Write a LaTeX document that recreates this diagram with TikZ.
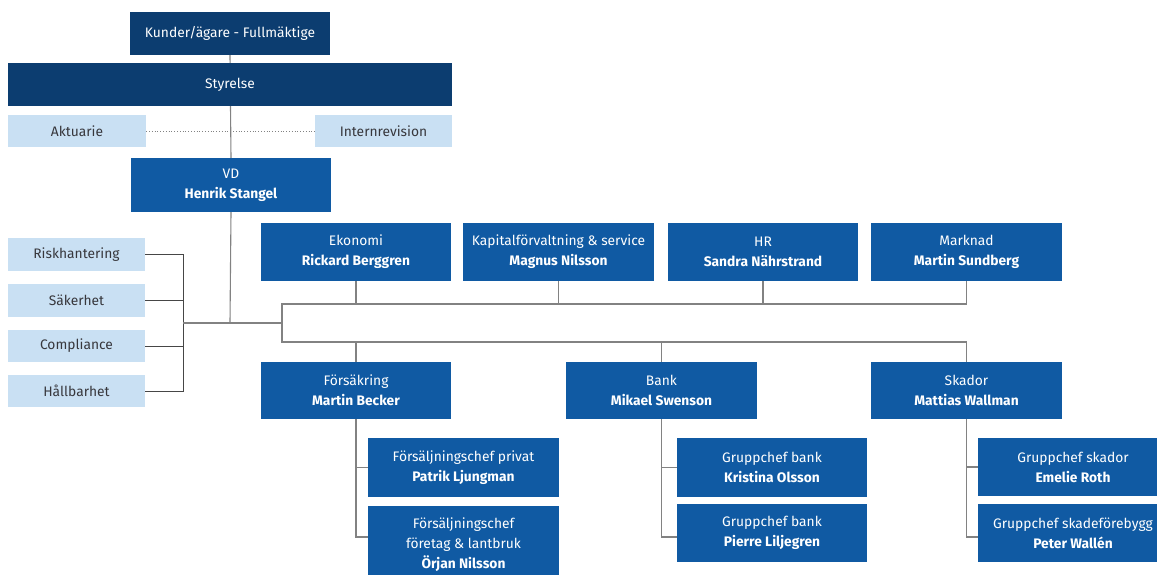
\documentclass[tikz,border=0pt]{standalone}
\usepackage{fontspec}
\setmainfont{Fira Sans}
\usetikzlibrary{backgrounds}
\definecolor{navy}{RGB}{12,61,112}
\definecolor{midblue}{RGB}{16,90,163}
\definecolor{lightblue}{RGB}{201,224,243}
\definecolor{lightText}{RGB}{55,55,60}
\definecolor{lineGray}{RGB}{130,130,130}
\definecolor{lineDark}{RGB}{70,70,70}
\tikzset{
  basebox/.style={inner sep=0pt, align=center, font=\fontsize{13.8}{20}\selectfont, anchor=center},
  darkbox/.style={basebox, fill=navy, text=white},
  midbox/.style={basebox, fill=midblue, text=white},
  lightbox/.style={basebox, fill=lightblue, text=lightText},
  conn/.style={draw=lineGray, line width=1.1pt},
  brack/.style={draw=lineDark, line width=0.9pt},
}
\begin{document}
\begin{tikzpicture}[x=1pt,y=-1pt]
\clip (0,0) rectangle (1157,575);
% top
\node[darkbox, minimum width=200pt, minimum height=43pt] (kund) at (230,33.5) {Kunder/ägare - Fullmäktige};
\node[darkbox, minimum width=444pt, minimum height=43pt] (styr) at (230,84.5) {Styrelse};
\node[lightbox, minimum width=138pt, minimum height=32pt] (akt) at (77,131) {Aktuarie};
\node[lightbox, minimum width=137pt, minimum height=32pt] (intr) at (383.5,131) {Internrevision};
\node[midbox, minimum width=200pt, minimum height=54pt] (vd) at (231,185) {VD\\\textbf{Henrik Stangel}};
% left staff
\node[lightbox, minimum width=137pt, minimum height=33pt] (risk) at (76.5,254.5) {Riskhantering};
\node[lightbox, minimum width=137pt, minimum height=33pt] (sak) at (76.5,300.5) {Säkerhet};
\node[lightbox, minimum width=137pt, minimum height=32pt] (comp) at (76.5,346) {Compliance};
\node[lightbox, minimum width=137pt, minimum height=32pt] (hall) at (76.5,391) {Hållbarhet};
% top row
\node[midbox, minimum width=190pt, minimum height=58pt] (eko) at (356,252) {Ekonomi\\\textbf{Rickard Berggren}};
\node[midbox, minimum width=191pt, minimum height=58pt] (kap) at (558.5,252) {Kapitalförvaltning \& service\\\textbf{Magnus Nilsson}};
\node[midbox, minimum width=190pt, minimum height=58pt] (hr) at (763,252) {HR\\\textbf{Sandra Nährstrand}};
\node[midbox, minimum width=191pt, minimum height=58pt] (mark) at (966.5,252) {Marknad\\\textbf{Martin Sundberg}};
% bottom row
\node[midbox, minimum width=190pt, minimum height=57pt] (fors) at (356,390.5) {Försäkring\\\textbf{Martin Becker}};
\node[midbox, minimum width=191pt, minimum height=57pt] (bank) at (661.5,390.5) {Bank\\\textbf{Mikael Swenson}};
\node[midbox, minimum width=191pt, minimum height=57pt] (skad) at (966.5,390.5) {Skador\\\textbf{Mattias Wallman}};
% sub boxes
\node[midbox, minimum width=191pt, minimum height=59pt] (fp) at (463.5,467.5) {Försäljningschef privat\\\textbf{Patrik Ljungman}};
\node[midbox, minimum width=191pt, minimum height=78pt] (fl) at (463.5,545) {Försäljningschef\\företag \& lantbruk\\\textbf{Örjan Nilsson}};
\node[midbox, minimum width=190pt, minimum height=59pt] (kb1) at (772,467.5) {Gruppchef bank\\\textbf{Kristina Olsson}};
\node[midbox, minimum width=190pt, minimum height=58pt] (kb2) at (772,533) {Gruppchef bank\\\textbf{Pierre Liljegren}};
\node[midbox, minimum width=190pt, minimum height=58pt] (sk1) at (1073,467) {Gruppchef skador\\\textbf{Emelie Roth}};
\node[midbox, minimum width=190pt, minimum height=58pt] (sk2) at (1073,533) {Gruppchef skadeförebygg\\\textbf{Peter Wallén}};
% coordinates
\coordinate (hub) at (183,323);
\coordinate (frL) at (282,323);
\coordinate (topL) at (282,304);
\coordinate (botL) at (282,342);
\coordinate (vdend) at (230,323);
\begin{scope}[on background layer]
\fill[white] (0,0) rectangle (1157,575);
\draw[conn] (kund.south) -- (vd.north);
\draw[conn] (vd.south) -- (vdend);
\draw[draw=lineGray, line width=0.8pt, dotted] (akt.east) -- (intr.west);
\draw[brack] (risk.east) -| (hub);
\draw[brack] (hall.east) -| (hub);
\draw[brack] (sak.east) -- (sak.east -| hub);
\draw[brack] (comp.east) -- (comp.east -| hub);
\draw[conn] (hub) -- (frL);
\draw[conn] (mark.south |- topL) -- (topL) -- (botL) -- (skad.north |- botL);
\draw[conn] (eko.south) -- (eko.south |- topL);
\draw[conn] (kap.south) -- (kap.south |- topL);
\draw[conn] (hr.south) -- (hr.south |- topL);
\draw[conn] (mark.south) -- (mark.south |- topL);
\draw[conn] (fors.north) -- (fors.north |- botL);
\draw[conn] (bank.north) -- (bank.north |- botL);
\draw[conn] (skad.north) -- (skad.north |- botL);
\draw[conn] (fors.south) |- ([yshift=8pt]fl.west);
\draw[conn] (fors.south |- fp.west) -- (fp.west);
\draw[conn] (bank.south) |- ([yshift=-4pt]kb2.west);
\draw[conn] (bank.south |- kb1.west) -- (kb1.west);
\draw[conn] (skad.south) |- ([yshift=-4pt]sk2.west);
\draw[conn] (skad.south |- sk1.west) -- (sk1.west);
\end{scope}
\end{tikzpicture}
\end{document}
